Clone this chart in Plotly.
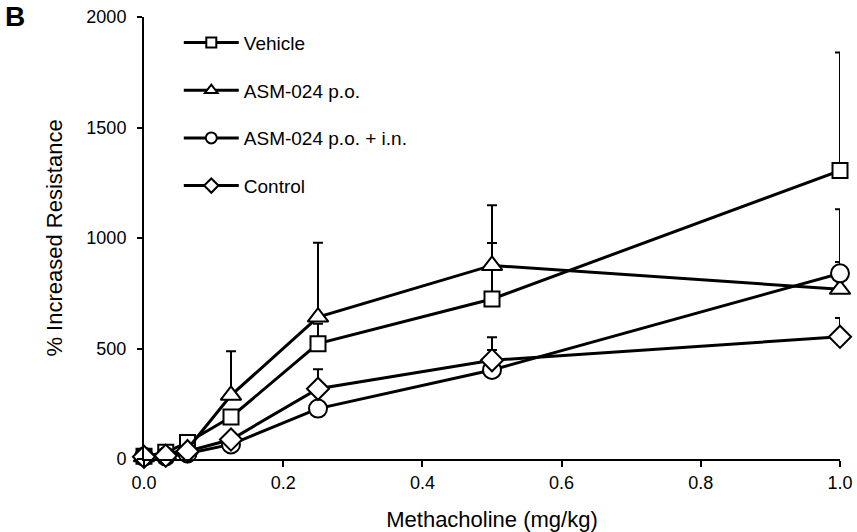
import plotly.graph_objects as go

dose = [0, 0.03125, 0.0625, 0.125, 0.25, 0.5, 1.0]

series_names = ["Vehicle", "ASM-024 p.o.", "ASM-024 p.o. + i.n.", "Control"]
vehicle = [12, 30, 75, 190, 522, 724, 1305]
vehicle_err = [0, 0, 0, 0, 90, 253, 534]
asm_po = [10, 20, 45, 288, 642, 876, 768]
asm_po_err = [0, 0, 0, 200, 337, 272, 123]
asm_po_in = [10, 12, 25, 66, 228, 403, 840]
asm_po_in_err = [0, 0, 0, 0, 0, 90, 290]
control = [10, 15, 35, 88, 318, 447, 553]
control_err = [0, 0, 0, 0, 88, 104, 85]

y_ticks = [0, 500, 1000, 1500, 2000]
x_ticks = [0.0, 0.2, 0.4, 0.6, 0.8, 1.0]

values = [vehicle, asm_po, asm_po_in, control]
errors = [vehicle_err, asm_po_err, asm_po_in_err, control_err]
symbols = ["square", "triangle-up", "circle", "diamond"]
sizes = [15, 18, 18, 17]
legend_sizes = [10, 11, 11, 11]

FONT = "Liberation Sans, Arial, sans-serif"
fig = go.Figure()

# error bars (only upward, only where present), drawn underneath
for vals, errs in zip(values, errors):
    xs = [x for x, e in zip(dose, errs) if e > 0]
    ys = [v for v, e in zip(vals, errs) if e > 0]
    es = [e for e in errs if e > 0]
    fig.add_trace(go.Scatter(
        x=xs, y=ys, mode="markers", showlegend=False, hoverinfo="skip",
        marker=dict(size=1, opacity=0),
        error_y=dict(type="data", symmetric=False, array=es,
                     arrayminus=[0] * len(es), color="black",
                     thickness=2, width=5),
        cliponaxis=False,
    ))

for i, (name, vals, sym, sz) in enumerate(zip(series_names, values, symbols, sizes)):
    fig.add_trace(go.Scatter(
        x=dose, y=vals, name=name, mode="lines+markers",
        showlegend=False,
        line=dict(color="black", width=3),
        marker=dict(symbol=sym, size=sz, color="white",
                    line=dict(color="black", width=2)),
        cliponaxis=False,
    ))

# legend entries (smaller symbols, as in the original legend)
for i, (name, sym, lsz) in enumerate(zip(series_names, symbols, legend_sizes)):
    fig.add_trace(go.Scatter(
        x=[None], y=[None], name=name, mode="lines+markers",
        legendgroup=f"g{i}",
        line=dict(color="black", width=3),
        marker=dict(symbol=sym, size=lsz, color="white",
                    line=dict(color="black", width=2)),
    ))

fig.update_layout(
    template="none",
    width=857, height=532,
    margin=dict(l=144, r=17, t=17, b=73, autoexpand=False),
    paper_bgcolor="white", plot_bgcolor="white",
    font=dict(family=FONT, size=18, color="black"),
    showlegend=True,
    legend=dict(x=0.05, y=0.985, xanchor="left", yanchor="top",
                bgcolor="rgba(0,0,0,0)", font=dict(size=19),
                tracegroupgap=20, itemwidth=55),
    xaxis=dict(range=[0, 1.0], tickvals=x_ticks, ticktext=[f"{t:.1f}" for t in x_ticks],
               showgrid=False, zeroline=False, showline=True, linecolor="black",
               linewidth=2, ticks="outside", ticklen=6, tickwidth=2, tickcolor="black",
               automargin=False, ticklabelstandoff=0,
               title=dict(text="Methacholine (mg/kg)", standoff=24)),
    yaxis=dict(range=[0, 2000], tickvals=y_ticks,
               showgrid=False, zeroline=False, showline=True, linecolor="black",
               linewidth=2, ticks="outside", ticklen=5, tickwidth=2, tickcolor="black",
               automargin=False, ticklabelstandoff=7,
               title=dict(text="% Increased Resistance", standoff=18)),
    annotations=[dict(text="<b>B</b>", x=-0.203, y=1.04, xref="paper", yref="paper",
                      xanchor="left", yanchor="top", showarrow=False,
                      font=dict(size=28, family=FONT))],
)

fig.write_html("out.html")
